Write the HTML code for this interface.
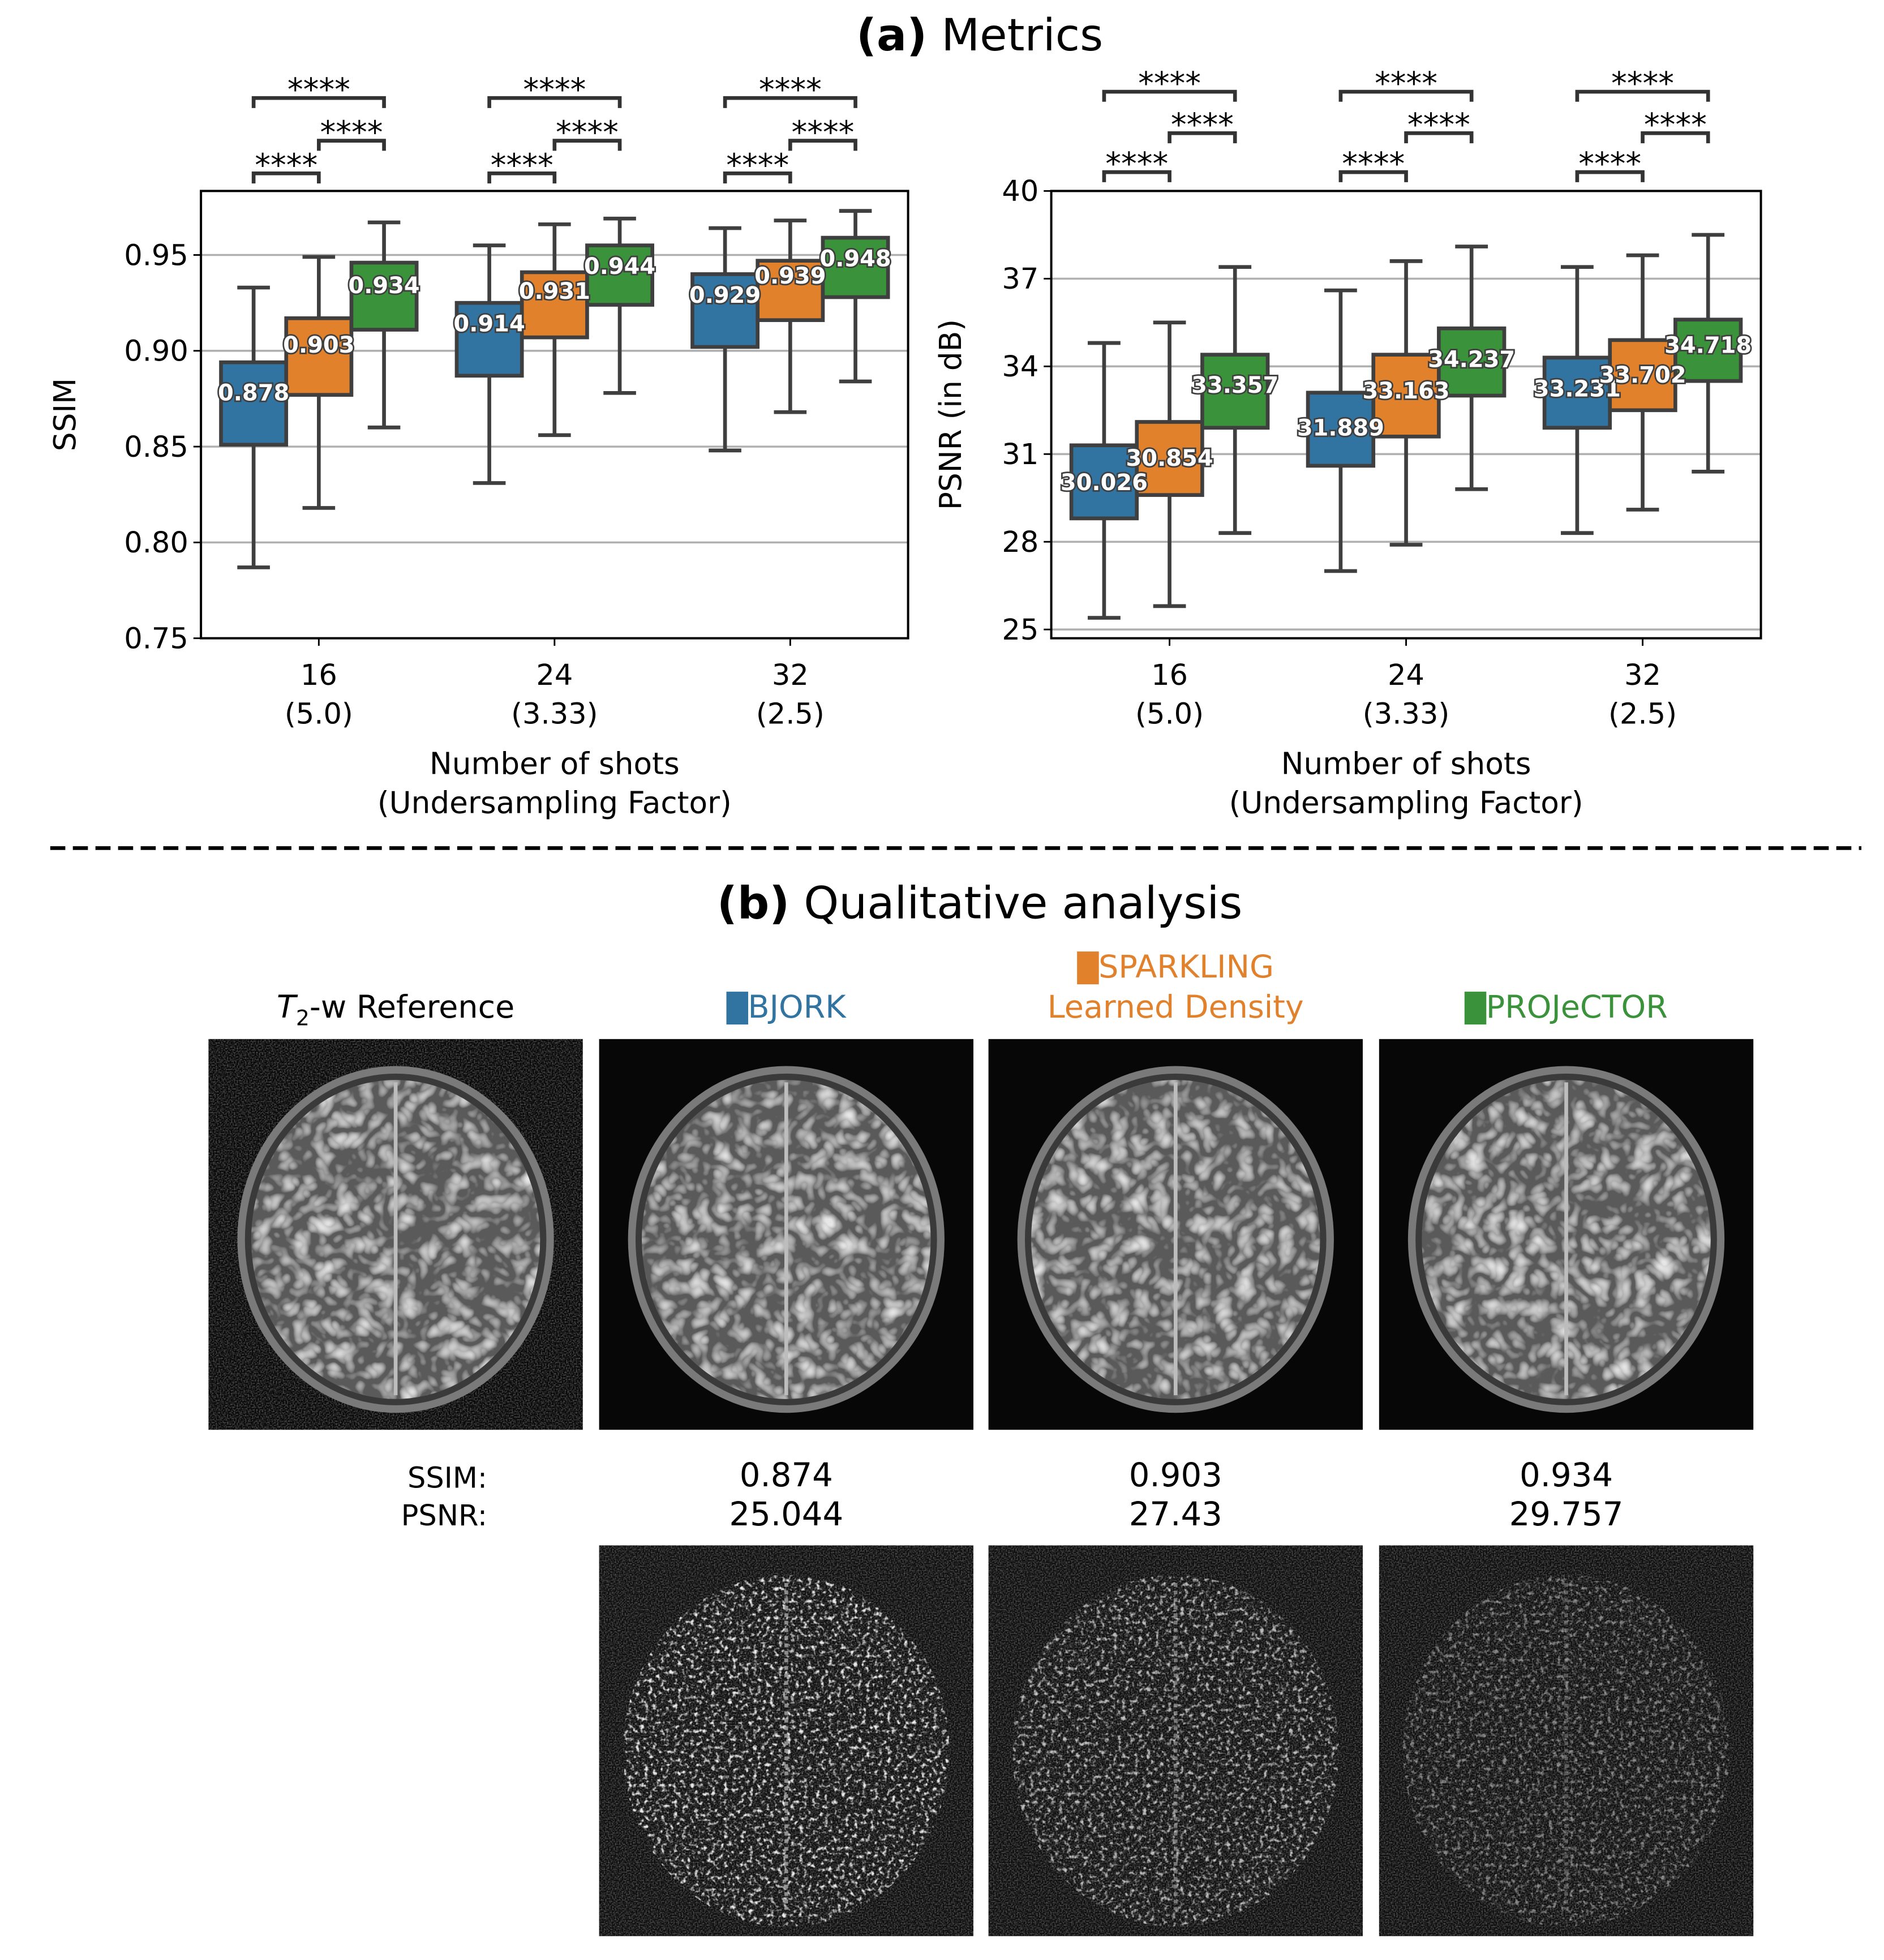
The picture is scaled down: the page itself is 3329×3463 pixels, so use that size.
<!DOCTYPE html>
<html><head><meta charset="utf-8">
<style>
html,body{margin:0;padding:0;background:#fff;}
svg{display:block;}
text{font-family:"DejaVu Sans","Liberation Sans",sans-serif;}
</style></head>
<body>
<svg id="fig" width="3329" height="3463" viewBox="0 0 1500 1560" preserveAspectRatio="none" xmlns="http://www.w3.org/2000/svg">
<defs>
  <filter id="brainTex" x="0" y="0" width="100%" height="100%">
    <feTurbulence type="turbulence" baseFrequency="0.06" numOctaves="2" seed="3" result="t"/>
    <feColorMatrix in="t" type="matrix" values="0 0 0 0 0.8  0 0 0 0 0.8  0 0 0 0 0.8  0 0 0 1.6 -0.25" result="c"/>
    <feComposite in="c" in2="SourceGraphic" operator="in" result="m"/>
    <feMerge><feMergeNode in="SourceGraphic"/><feMergeNode in="m"/></feMerge>
  </filter>
  <filter id="noise" x="0" y="0" width="100%" height="100%">
    <feTurbulence type="fractalNoise" baseFrequency="0.9" numOctaves="1" seed="7" result="n"/>
    <feColorMatrix in="n" type="matrix" values="0 0 0 0 0.3 0 0 0 0 0.3 0 0 0 0 0.3 0 0 0 1.2 -0.45" result="c"/>
    <feComposite in="c" in2="SourceGraphic" operator="in"/>
  </filter>
  <filter id="errTex" x="0" y="0" width="100%" height="100%">
    <feTurbulence type="fractalNoise" baseFrequency="0.3" numOctaves="2" seed="11" result="n"/>
    <feColorMatrix in="n" type="matrix" values="0 0 0 0 1 0 0 0 0 1 0 0 0 0 1 0 0 0 4 -2.1" result="c"/>
    <feComposite in="c" in2="SourceGraphic" operator="in"/>
  </filter>
</defs>
<g id="root"></g>
</svg>
<script>
// ---- data ----
const groups = ["16", "24", "32"];
const groupSub = ["(5.0)", "(3.33)", "(2.5)"];
const ssimLow  = [[0.787,0.818,0.860],[0.831,0.856,0.878],[0.848,0.868,0.884]];
const ssimQ1   = [[0.851,0.877,0.911],[0.887,0.907,0.924],[0.902,0.916,0.928]];
const ssimQ3   = [[0.894,0.917,0.946],[0.925,0.941,0.955],[0.940,0.947,0.959]];
const ssimHigh = [[0.933,0.949,0.967],[0.955,0.966,0.969],[0.964,0.968,0.973]];
const ssimLabel= [[0.878,0.903,0.934],[0.914,0.931,0.944],[0.929,0.939,0.948]];
const ssimTicks = [0.75,0.80,0.85,0.90,0.95];
const psnrLow  = [[25.4,25.8,28.3],[27.0,27.9,29.8],[28.3,29.1,30.4]];
const psnrQ1   = [[28.8,29.6,31.9],[30.6,31.6,33.0],[31.9,32.5,33.5]];
const psnrQ3   = [[31.3,32.1,34.4],[33.1,34.4,35.3],[34.3,34.9,35.6]];
const psnrHigh = [[34.8,35.5,37.4],[36.6,37.6,38.1],[37.4,37.8,38.5]];
const psnrLabel= [[30.026,30.854,33.357],[31.889,33.163,34.237],[33.231,33.702,34.718]];
const psnrTicks = [25,28,31,34,37,40];
const colors = ["#3274a1","#e1812c","#3a923a"];
const methods = ["BJORK","SPARKLING","PROJeCTOR"];
const qualSSIM = ["0.874","0.903","0.934"];
const qualPSNR = ["25.044","27.43","29.757"];

const NS="http://www.w3.org/2000/svg";
const root=document.getElementById('root');
function el(tag,attrs,parent,txt){const e=document.createElementNS(NS,tag);for(const k in attrs)e.setAttribute(k,attrs[k]);if(txt!==undefined)e.textContent=txt;(parent||root).appendChild(e);return e;}
const ED="#3f3f3f";

function drawPanel(name,x0,x1,y0,y1,vmin,vmax,ticks,fmt,low,q1,q3,high,lab,ylab,bracketY,ytOff){
  const g=el('g',{});
  
  
  const Y=v=>y1-(v-vmin)/(vmax-vmin)*(y1-y0);
  const gw=(x1-x0)/groups.length;
  const bw=gw*0.83/3;
  const GX=i=>x0+gw*(i+0.5);
  ticks.forEach(t=>{
    const gl=el('line',{x1:x0,x2:x1,y1:Y(t),y2:Y(t),stroke:"#b0b0b0","stroke-width":1.6},g);
    
    
    el('line',{x1:x0-6,x2:x0,y1:Y(t),y2:Y(t),stroke:"#000","stroke-width":1.3},g);
    const tl=el('text',{x:x0-10,y:Y(t)+8,"font-size":23,"text-anchor":"end"},g,fmt(t));
    
    
  });
  groups.forEach((gname,i)=>{
    el('line',{x1:GX(i),x2:GX(i),y1:y1,y2:y1+6,stroke:"#000","stroke-width":1.3},g);
    const t1=el('text',{x:GX(i),y:y1+37,"font-size":23,"text-anchor":"middle"},g,gname);
    
    
    el('text',{x:GX(i),y:y1+68,"font-size":23,"text-anchor":"middle"},g,groupSub[i]);
    for(let h=0;h<3;h++){
      const cx=GX(i)+(h-1)*bw;
      const bg=el('g',{},g);
      
      
      el('line',{x1:cx,x2:cx,y1:Y(low[i][h]),y2:Y(high[i][h]),stroke:ED,"stroke-width":3},bg);
      el('line',{x1:cx-bw/4,x2:cx+bw/4,y1:Y(low[i][h]),y2:Y(low[i][h]),stroke:ED,"stroke-width":3},bg);
      el('line',{x1:cx-bw/4,x2:cx+bw/4,y1:Y(high[i][h]),y2:Y(high[i][h]),stroke:ED,"stroke-width":3},bg);
      el('rect',{x:cx-bw/2,y:Y(q3[i][h]),width:bw,height:Y(q1[i][h])-Y(q3[i][h]),fill:colors[h],stroke:ED,"stroke-width":3},bg);
    }
    for(let h=0;h<3;h++){
      const cx=GX(i)+(h-1)*bw;
      const lt=el('text',{x:cx,y:Y(lab[i][h])+6,"font-size":18,"font-weight":"bold","text-anchor":"middle",fill:"#fff",stroke:"#3f3f3f","stroke-width":2.5,"paint-order":"stroke"},g,lab[i][h].toFixed(3));
      
      
    }
    const pairs=[[0,1,bracketY[0]],[1,2,bracketY[1]],[0,2,bracketY[2]]];
    pairs.forEach(p=>{
      const a=GX(i)+(p[0]-1)*bw, b=GX(i)+(p[1]-1)*bw, yy=p[2];
      const br=el('path',{d:`M${a} ${yy+8} V${yy} H${b} V${yy+8}`,fill:"none",stroke:"#333","stroke-width":3},g);
      
      
      el('text',{x:(a+b)/2,y:yy+2,"font-size":25,"text-anchor":"middle"},g,"****");
    });
  });
  const fr=el('rect',{x:x0,y:y0,width:x1-x0,height:y1-y0,fill:"none",stroke:"#000","stroke-width":1.8},g);
  
  
  const cx=(x0+x1)/2;
  const xl=el('text',{x:cx,y:y1+108,"font-size":24,"text-anchor":"middle"},g,"Number of shots");
  
  
  el('text',{x:cx,y:y1+139,"font-size":24,"text-anchor":"middle"},g,"(Undersampling Factor)");
  const yt=el('text',{x:0,y:0,"font-size":24,"text-anchor":"middle",transform:`translate(${x0-ytOff},${(y0+y1)/2}) rotate(-90)`},g,ylab);
  
  
}
drawPanel('ssim',160,723,152,508,0.75,0.9834,ssimTicks,v=>v.toFixed(2),ssimLow,ssimQ1,ssimQ3,ssimHigh,ssimLabel,"SSIM",[138,112,78],100);
drawPanel('psnr',837,1402,152,508,24.7,40,psnrTicks,v=>String(v),psnrLow,psnrQ1,psnrQ3,psnrHigh,psnrLabel,"PSNR (in dB)",[137,106,73],72);

function title(x,y,b,rest,name){
  const t=el('text',{x:x,y:y,"font-size":35.5,"text-anchor":"middle"});
  
  
  el('tspan',{"font-weight":"bold"},t,b);
  el('tspan',{},t," "+rest);
}
title(780,40,"(a)","Metrics","title-metrics");
const dl=el('line',{x1:40,x2:1482,y1:675,y2:675,stroke:"#000","stroke-width":3,"stroke-dasharray":"12 6"});


title(780,731,"(b)","Qualitative analysis","title-qualitative");

const colX=[166,477,787,1098], W=298, H=311;
function brain(x,y,blur,name){
  const g=el('g',{});
  
  
  el('rect',{x:x,y:y,width:W,height:H,fill:"#070707"},g);
  if(!blur) el('rect',{x:x,y:y,width:W,height:H,fill:"#fff",filter:"url(#noise)"},g);
  const cx=x+W/2, cy=y+H/2+4;
  el('ellipse',{cx:cx,cy:cy,rx:126,ry:138,fill:"#7a7a7a"},g);
  el('ellipse',{cx:cx,cy:cy,rx:120,ry:132,fill:"#3a3a3a"},g);
  el('ellipse',{cx:cx,cy:cy,rx:115,ry:127,fill:"#5a5a5a",filter:"url(#brainTex)"},g);
  el('line',{x1:cx,x2:cx,y1:cy-125,y2:cy+124,stroke:"#bdbdbd","stroke-width":3},g);
}
function errmap(x,y,lvl,name){
  const g=el('g',{});
  
  
  el('rect',{x:x,y:y,width:W,height:H,fill:"#0d0d0d"},g);
  el('rect',{x:x,y:y,width:W,height:H,fill:"#fff",filter:"url(#noise)"},g);
  el('ellipse',{cx:x+W/2,cy:y+H/2+8,rx:130,ry:140,fill:"#fff",opacity:lvl,filter:"url(#errTex)"},g);
  el('line',{x1:x+W/2,x2:x+W/2,y1:y+30,y2:y+290,stroke:"#999","stroke-width":3,"stroke-dasharray":"3 3",opacity:lvl},g);
}
brain(colX[0],827,false,'reference-image');
for(let i=0;i<3;i++){
  brain(colX[i+1],827,true,'recon-image-'+methods[i].toLowerCase());
  errmap(colX[i+1],1230,[0.9,0.7,0.45][i],'error-map-'+methods[i].toLowerCase());
}
const ht=el('text',{x:colX[0]+W/2,y:810,"font-size":25,"text-anchor":"middle"});


el('tspan',{"font-style":"italic"},ht,"T");
el('tspan',{"font-size":17,dy:6},ht,"2");
el('tspan',{dy:-6},ht,"-w Reference");
function header(cx,y,label,col,name){
  const t=el('text',{x:cx,y:y,"font-size":25,"text-anchor":"middle",fill:col});
  
  
  el('tspan',{"font-size":22},t,"\u2588");
  el('tspan',{},t,label);
}
header(colX[1]+W/2,810,"BJORK",colors[0],'header-bjork');
header(colX[2]+W/2,778,"SPARKLING",colors[1],'header-sparkling');
const ld=el('text',{x:colX[2]+W/2,y:810,"font-size":25,"text-anchor":"middle",fill:colors[1]},root,"Learned Density");


header(colX[3]+W/2,810,"PROJeCTOR",colors[2],'header-projector');
const s1=el('text',{x:388,y:1184,"font-size":23,"text-anchor":"end"},root,"SSIM:");


const s2=el('text',{x:388,y:1214,"font-size":23,"text-anchor":"end"},root,"PSNR:");


for(let i=0;i<3;i++){
  const a=el('text',{x:colX[i+1]+W/2,y:1183,"font-size":26,"text-anchor":"middle"},root,qualSSIM[i]);
  
  
  const b=el('text',{x:colX[i+1]+W/2,y:1214,"font-size":26,"text-anchor":"middle"},root,qualPSNR[i]);
  
  
}
</script>
</body></html>
